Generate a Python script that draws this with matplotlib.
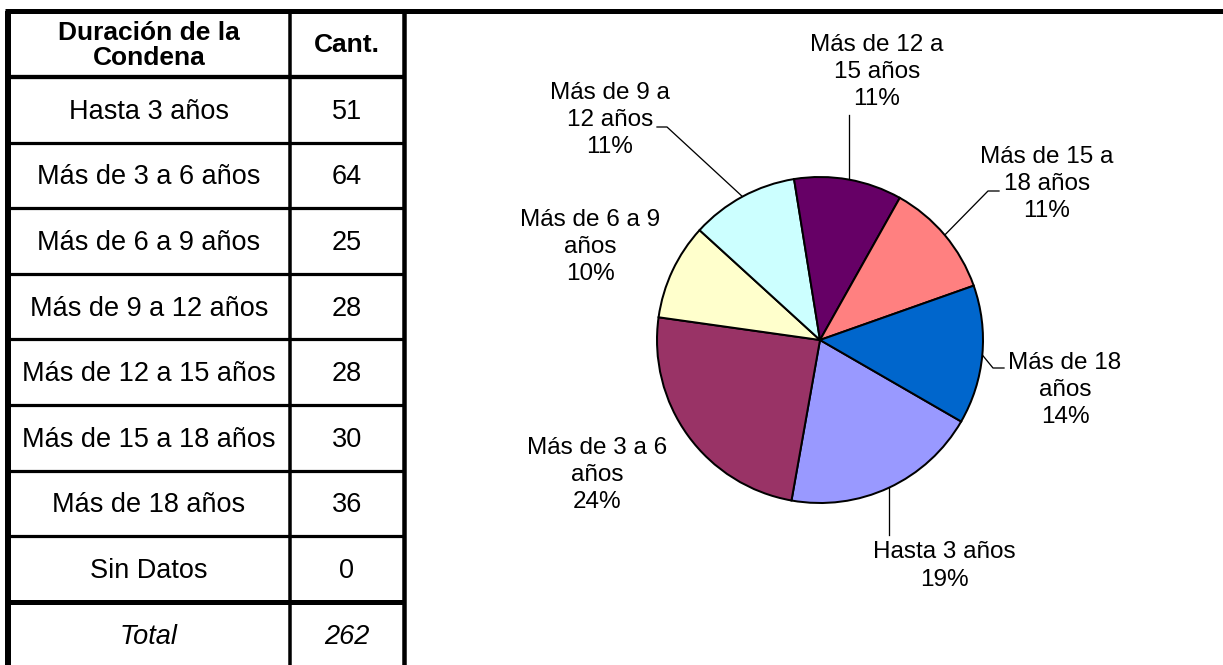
import matplotlib
matplotlib.use("Agg")
import matplotlib.pyplot as plt
import numpy as np

# ---------------- data ----------------
categories = ["Hasta 3 años", "Más de 3 a 6 años", "Más de 6 a 9 años",
              "Más de 9 a 12 años", "Más de 12 a 15 años", "Más de 15 a 18 años",
              "Más de 18 años", "Sin Datos"]
counts = [51, 64, 25, 28, 28, 30, 36, 0]
header_labels = ["Duración de la\nCondena", "Cant."]
total_label = "Total"
pie_labels = ["Hasta 3 años", "Más de 3 a 6\naños", "Más de 6 a 9\naños",
              "Más de 9 a\n12 años", "Más de 12 a\n15 años", "Más de 15 a\n18 años",
              "Más de 18\naños", "Sin Datos"]
colors = ["#9999FF", "#993366", "#FFFFCC", "#CCFFFF", "#660066", "#FF8080",
          "#0066CC", "#FFFFFF"]

# ---------------- layout ----------------
W, H = 1223, 665
FONT = "Liberation Sans"
plt.rcParams["font.family"] = [FONT, "DejaVu Sans"]

fig = plt.figure(figsize=(W / 100, H / 100), dpi=100)
bg = fig.add_axes([0, 0, 1, 1])
bg.set_xlim(0, W)
bg.set_ylim(H, 0)
bg.axis("off")

px = 0.72  # points per pixel
x_left, x_mid, x_right = 8, 290, 404
y_top = 11
header_bottom = 77
row_h = 65.6

# outer top line
bg.plot([x_left - 3, W], [y_top, y_top], color="black", lw=5 * px, solid_capstyle="butt")
# vertical lines
bg.plot([x_left, x_left], [y_top, H], color="black", lw=6 * px, solid_capstyle="butt")
bg.plot([x_mid, x_mid], [y_top, H], color="black", lw=3.5 * px, solid_capstyle="butt")
bg.plot([x_right, x_right], [y_top, H], color="black", lw=4.5 * px, solid_capstyle="butt")

# header
c1 = (x_left + x_mid) / 2
c2 = (x_mid + x_right) / 2
hy = (y_top + header_bottom) / 2 + 1.5
bg.text(c1, hy, header_labels[0], ha="center", va="center", fontsize=19,
        fontweight="bold", linespacing=1.04)
bg.text(c2, hy, header_labels[1], ha="center", va="center", fontsize=19,
        fontweight="bold")
bg.plot([x_left, x_right], [header_bottom, header_bottom], color="black",
        lw=4.3 * px, solid_capstyle="butt")

n = len(categories)
for i, (cat, val) in enumerate(zip(categories, counts)):
    top = header_bottom + i * row_h
    mid = top + row_h / 2 + 2
    bg.text(c1, mid, cat, ha="center", va="center", fontsize=19.5)
    bg.text(c2, mid, str(val), ha="center", va="center", fontsize=19.5)
    bottom = top + row_h
    lw = 5 if i == n - 1 else 3.2
    bg.plot([x_left, x_right], [bottom, bottom], color="black", lw=lw * px,
            solid_capstyle="butt")

total = sum(counts)
top = header_bottom + n * row_h
mid = top + row_h / 2 + 2
bg.text(c1, mid, total_label, ha="center", va="center", fontsize=19.5, style="italic")
bg.text(c2, mid, str(total), ha="center", va="center", fontsize=19.5, style="italic")

# ---------------- pie ----------------
cx, cy, R = 820, 340, 163
ax = fig.add_axes([(cx - R) / W, (H - cy - R) / H, 2 * R / W, 2 * R / H])
vals = [v for v in counts if v > 0]
cols = [c for v, c in zip(counts, colors) if v > 0]
labs = [l for v, l in zip(counts, pie_labels) if v > 0]
wedges, _ = ax.pie(vals, colors=cols, startangle=-30, counterclock=False,
                   wedgeprops=dict(edgecolor="black", linewidth=2 * px))
ax.set_aspect("auto")
ax.set_xlim(-1, 1)
ax.set_ylim(-1, 1)
ax.axis("off")

# label layout (pixel centers) and leader elbows
label_pos = [(944, 566), (597, 475), (590, 247), (610, 120), (877, 72),
             (1047, 184), (1065, 390)]
leaders = [[("edge_x", 535)], None, None, [(667, 127), (657, 127)],
           [("edge_x", 115)], [(988, 191), (999, 191)], [(993, 368), (1004, 368)]]

for w, lab, v, pos, ld in zip(wedges, labs, vals, label_pos, leaders):
    pct = round(100 * v / total)
    bg.text(pos[0], pos[1], f"{lab}\n{pct}%", ha="center", va="center",
            fontsize=17.5, linespacing=1.3)
    if ld is not None:
        th = np.deg2rad((w.theta1 + w.theta2) / 2)
        ex, ey = cx + R * np.cos(th), cy - R * np.sin(th)
        xs, ys = [ex], [ey]
        for (lx, ly) in ld:
            xs.append(ex if lx == "edge_x" else lx)
            ys.append(ly)
        bg.plot(xs, ys, color="black", lw=1.3 * px)

fig.savefig("out.png", dpi=100)
